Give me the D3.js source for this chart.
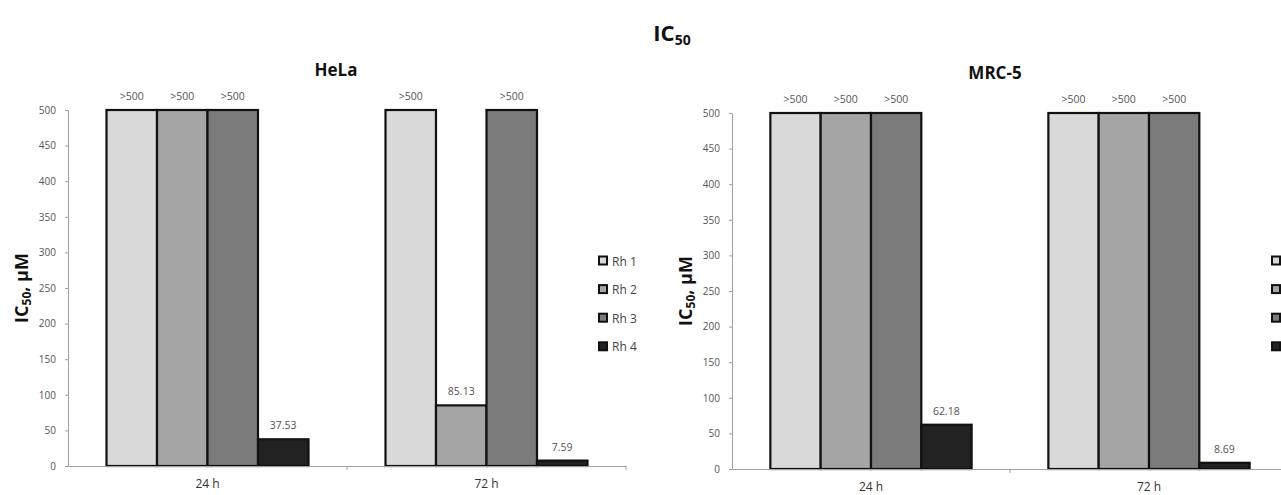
<!DOCTYPE html>
<html>
<head>
<meta charset="utf-8">
<script src="https://cdn.jsdelivr.net/npm/d3@7/dist/d3.min.js"></script>
<style>
  html, body { margin: 0; padding: 0; background: #fff; }
  svg { display: block; font-family: "Open Sans", "Noto Sans", sans-serif; }
</style>
</head>
<body>
<svg id="chart" width="1281" height="495"></svg>
<script>
// ---- data ----
const categories = ["24 h", "72 h"];
const seriesNames = ["Rh 1", "Rh 2", "Rh 3", "Rh 4"];
const seriesColors = ["#d9d9d9", "#a5a5a5", "#7b7b7b", "#222222"];
const yTicks = [0, 50, 100, 150, 200, 250, 300, 350, 400, 450, 500];
const panelTitles = ["HeLa", "MRC-5"];
// values [series][category]; ">500" plotted at the 500 cap
const helaValues = [[500, 500], [500, 85.13], [500, 500], [37.53, 7.59]];
const helaLabels = [[">500", ">500"], [">500", "85.13"], [">500", ">500"], ["37.53", "7.59"]];
const mrcValues = [[500, 500], [500, 500], [500, 500], [62.18, 8.69]];
const mrcLabels = [[">500", ">500"], [">500", ">500"], [">500", ">500"], ["62.18", "8.69"]];

const svg = d3.select("#chart");

// main title IC50
const t = svg.append("text").attr("x", 672).attr("y", 41).attr("text-anchor", "middle")
  .attr("font-size", 22).attr("font-weight", "bold").attr("fill", "#111");
t.append("tspan").text("IC");
t.append("tspan").attr("font-size", 14).attr("dy", 4).text("50");

const panels = [
  { title: panelTitles[0], values: helaValues, labels: helaLabels, x0: 68, x1: 626, yTop: 110, yBot: 466,
    titleX: 336, titleY: 76, yLabelX: 22, legendX: 599, legendText: true },
  { title: panelTitles[1], values: mrcValues, labels: mrcLabels, x0: 732, x1: 1288, yTop: 113, yBot: 469,
    titleX: 995, titleY: 79, yLabelX: 686, legendX: 1272, legendText: false }
];

panels.forEach(p => {
  const g = svg.append("g");
  const x = d3.scaleBand().domain(categories).range([p.x0, p.x1]).paddingInner(0.276).paddingOuter(0.138);
  const xOuter = d3.scaleBand().domain(categories).range([p.x0, p.x1]);
  const xs = d3.scaleBand().domain(seriesNames).range([0, x.bandwidth()]);
  const y = d3.scaleLinear().domain([0, 500]).range([p.yBot, p.yTop]);

  // title
  g.append("text").attr("x", p.titleX).attr("y", p.titleY).attr("text-anchor", "middle")
    .attr("font-size", 17).attr("font-weight", "bold").attr("fill", "#111").text(p.title);

  // y axis
  const ya = g.append("g").attr("transform", `translate(${p.x0},0)`)
    .call(d3.axisLeft(y).tickValues(yTicks).tickSize(3).tickPadding(9).tickSizeOuter(0));
  ya.select(".domain").attr("stroke", "#a0a0a0");
  ya.selectAll(".tick line").attr("stroke", "#a0a0a0");
  ya.selectAll(".tick text").attr("font-size", 10).attr("fill", "#555").attr("font-family", "'Open Sans', sans-serif");

  // y label
  const yl = g.append("text").attr("transform", `translate(${p.yLabelX + 6},${(p.yTop + p.yBot) / 2}) rotate(-90)`)
    .attr("text-anchor", "middle").attr("font-size", 18).attr("font-weight", "bold").attr("fill", "#111");
  yl.append("tspan").text("IC");
  yl.append("tspan").attr("font-size", 12).attr("dy", 3).text("50");
  yl.append("tspan").attr("dy", -3).text(", µM");

  // bars
  seriesNames.forEach((s, si) => {
    categories.forEach((c, ci) => {
      const v = p.values[si][ci];
      const bx = x(c) + xs(s);
      g.append("rect")
        .attr("x", bx).attr("y", y(v))
        .attr("width", xs.bandwidth()).attr("height", y(0) - y(v))
        .attr("fill", seriesColors[si]).attr("stroke", "#111").attr("stroke-width", 2.2);
      g.append("text")
        .attr("x", bx + xs.bandwidth() / 2).attr("y", y(v) - 10)
        .attr("text-anchor", "middle").attr("font-size", 10.5).attr("fill", "#555")
        .text(p.labels[si][ci]);
    });
  });

  // x axis
  const xa = g.append("g").attr("transform", `translate(0,${p.yBot})`)
    .call(d3.axisBottom(xOuter).tickSize(0).tickPadding(13));
  xa.select(".domain").attr("stroke", "#a0a0a0");
  xa.selectAll(".tick text").attr("font-size", 12).attr("fill", "#333").attr("font-family", "'Open Sans', sans-serif");
  // boundary ticks
  g.selectAll(".bt").data(categories).enter().append("line")
    .attr("x1", d => xOuter(d) + xOuter.bandwidth()).attr("x2", d => xOuter(d) + xOuter.bandwidth())
    .attr("y1", p.yBot).attr("y2", p.yBot + 4).attr("stroke", "#a0a0a0");

  // legend (right panel's legend labels fall outside the picture, as in the reference)
  seriesNames.forEach((s, si) => {
    const ly = 261 + si * 28.6;
    g.append("rect").attr("x", p.legendX).attr("y", ly - 4.5).attr("width", 8).attr("height", 8)
      .attr("fill", seriesColors[si]).attr("stroke", "#111").attr("stroke-width", 2);
    if (p.legendText) {
      g.append("text").attr("x", p.legendX + 13).attr("y", ly + 4.5).attr("font-size", 12)
        .attr("fill", "#444").text(s);
    }
  });
});
</script>
</body>
</html>
